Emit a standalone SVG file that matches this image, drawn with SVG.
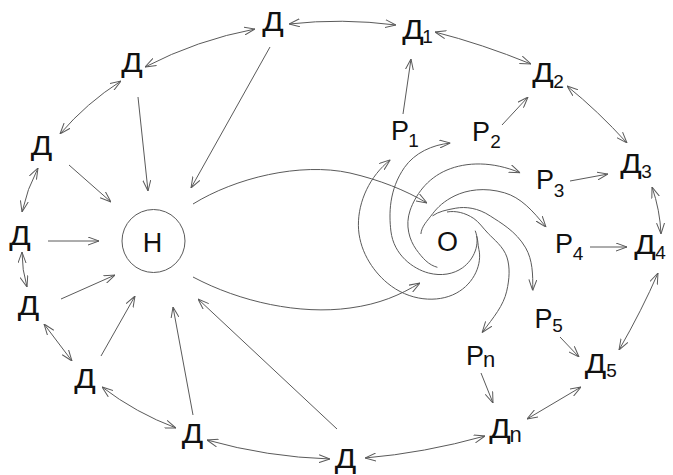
<svg xmlns="http://www.w3.org/2000/svg" width="673" height="475" viewBox="0 0 673 475">
<defs>
<style>
.c{fill:none;stroke:#5a5a5a;stroke-width:1}
.a{marker-end:url(#ah)}
.b{marker-start:url(#ah);marker-end:url(#ah)}
text{font-family:"Liberation Sans",Arial,sans-serif;fill:#111}
.m{font-size:27px;text-anchor:middle}
.s{font-size:19px;text-anchor:middle}
.n{font-size:22px;text-anchor:middle}
</style>
<marker id="ah" viewBox="0 0 11 9" refX="11" refY="4.5" markerWidth="11" markerHeight="9" markerUnits="userSpaceOnUse" orient="auto-start-reverse">
<path d="M0,0.5 L11,4.5 L0,8.5" fill="none" stroke="#5a5a5a" stroke-width="1"/>
</marker>
</defs>
<rect width="673" height="475" fill="#fff"/>
<g id="connectors">
<path class="c b" d="M255,29 Q197,40 145,67"/>
<path class="c b" d="M289,24 Q342,18 396,25"/>
<path class="c b" d="M121,81 Q86.5,103 60,134"/>
<path class="c b" d="M38,168 Q27,189 22,212"/>
<path class="c b" d="M22,252 Q22,270 27,287"/>
<path class="c b" d="M44,324 L72,361"/>
<path class="c b" d="M102,387 Q136,413 176,428"/>
<path class="c b" d="M207,440 Q267,457 330,459"/>
<path class="c b" d="M365,458 Q424,453 485,436"/>
<path class="c b" d="M527,419 L581,387"/>
<path class="c b" d="M619,350 Q642,310 658,273"/>
<path class="c b" d="M661,234 Q660,210 652,187"/>
<path class="c b" d="M567,86 Q598,111 627,143"/>
<path class="c b" d="M435,32 Q482,44 531,64"/>
<path class="c a" d="M270,47 L191,188"/>
<path class="c a" d="M138,97 L148,191"/>
<path class="c a" d="M69,165 L111,202"/>
<path class="c a" d="M48,241 L99,241"/>
<path class="c a" d="M61,299 L115,275"/>
<path class="c a" d="M101,356 L135,296"/>
<path class="c a" d="M193,415 L173,307"/>
<path class="c a" d="M337,429 L198,299"/>
<path class="c a" d="M403,114 L411,59"/>
<path class="c a" d="M502,125 L528,97"/>
<path class="c a" d="M570,181 L608,174"/>
<path class="c a" d="M590,247 L627,247"/>
<path class="c a" d="M560,337 L579,357"/>
<path class="c a" d="M481,373 L493,403"/>
<path class="c a" d="M193,204 C235,178 300,162 350,173 C380,180 405,190 427,203"/>
<path class="c a" d="M193,277 C240,302 300,315 350,308 C380,304 400,295 420,283"/>
<path class="c a" d="M476.6,235.8 C478.1,240.0 477.7,244.2 478.9,249.5 C482.1,263.3 474.8,283.2 456.2,293.2 C437.6,303.2 409.1,301.3 387.2,282.9 C372.0,270.2 358.6,249.3 358.4,225.3 C358.2,201.3 369.8,176.1 390.2,159.9"/>
<path class="c a" d="M475.2,230.7 C480.4,243.7 474.3,259.4 462.5,267.8 C453.7,274.1 441.4,276.4 428.5,273.0 C413.4,269.0 393.7,255.2 390.9,231.1 C388.9,213.9 388.9,189.8 404.5,167.4 C414.5,153.1 432.1,144.7 450.4,143.1"/>
<path class="c a" d="M437.4,267.3 C428.7,265.1 422.5,258.2 416.1,249.3 C409.7,240.4 404.7,225.6 410.2,210.1 C415.2,196.0 426.3,178.7 447,170 C466.4,161.8 492.5,161.2 520.1,172.8"/>
<path class="c a" d="M420.9,234.0 C421.5,226.4 427.1,221.1 432.9,213.4 C437.4,207.5 444.0,201.0 455.0,195.7 C466.9,190.0 484.3,186.9 504.5,192.8 C520.6,197.5 532.4,210.2 546.0,227.1"/>
<path class="c a" d="M432.5,215.9 C438.7,211.4 446.1,210.0 455.8,208.2 C465.5,206.4 478.1,207.9 490.3,216.0 C499.8,222.3 515.9,230.9 525.7,247.9 C532.6,260.0 533.0,274.1 532.7,290.5"/>
<path class="c a" d="M447,212 C455.4,210.5 465.0,212.6 473.8,218.5 C479.1,222.1 482.3,227.3 488.4,233.7 C493.5,239.0 503.6,246.9 506.9,257.1 C510.2,267.3 509.5,278.8 506.7,291.2 C503.4,305.6 493.9,317.1 482.1,332.5"/>
</g>
<g id="H"><circle class="c" cx="153.5" cy="241" r="31.5"/><text class="m" x="152.5" y="252" font-size="28">Н</text></g>
<g id="O"><text class="m" x="447.5" y="251" font-size="28">О</text></g>
<g id="D-top"><text class="m" x="273" y="31" textLength="21.5" lengthAdjust="spacingAndGlyphs">Д</text></g>
<g id="D-a"><text class="m" x="132" y="72" textLength="21.5" lengthAdjust="spacingAndGlyphs">Д</text></g>
<g id="D-b"><text class="m" x="41.5" y="155" textLength="21.5" lengthAdjust="spacingAndGlyphs">Д</text></g>
<g id="D-c"><text class="m" x="20" y="245" textLength="21.5" lengthAdjust="spacingAndGlyphs">Д</text></g>
<g id="D-d"><text class="m" x="28.5" y="315" textLength="21.5" lengthAdjust="spacingAndGlyphs">Д</text></g>
<g id="D-e"><text class="m" x="85" y="388" textLength="21.5" lengthAdjust="spacingAndGlyphs">Д</text></g>
<g id="D-f"><text class="m" x="192.5" y="443" textLength="21.5" lengthAdjust="spacingAndGlyphs">Д</text></g>
<g id="D-bottom"><text class="m" x="345.5" y="468" textLength="21.5" lengthAdjust="spacingAndGlyphs">Д</text></g>
<g id="D1"><text class="m" x="413" y="39" textLength="21.5" lengthAdjust="spacingAndGlyphs">Д</text><text class="s" x="427.5" y="43">1</text></g>
<g id="D2"><text class="m" x="543" y="82" textLength="21.5" lengthAdjust="spacingAndGlyphs">Д</text><text class="s" x="558.5" y="88">2</text></g>
<g id="D3"><text class="m" x="631" y="173" textLength="21.5" lengthAdjust="spacingAndGlyphs">Д</text><text class="s" x="646.5" y="178">3</text></g>
<g id="D4"><text class="m" x="645" y="254" textLength="21.5" lengthAdjust="spacingAndGlyphs">Д</text><text class="s" x="660.5" y="259">4</text></g>
<g id="D5"><text class="m" x="595.5" y="373" textLength="21.5" lengthAdjust="spacingAndGlyphs">Д</text><text class="s" x="611.5" y="377">5</text></g>
<g id="Dn"><text class="m" x="500" y="438" textLength="21.5" lengthAdjust="spacingAndGlyphs">Д</text><text class="n" x="515.5" y="442">n</text></g>
<g id="P1"><text class="m" x="400" y="140" font-size="28">Р</text><text class="s" x="413.5" y="147">1</text></g>
<g id="P2"><text class="m" x="481" y="141" font-size="28">Р</text><text class="s" x="495.5" y="148">2</text></g>
<g id="P3"><text class="m" x="545" y="189" font-size="28">Р</text><text class="s" x="559" y="197">3</text></g>
<g id="P4"><text class="m" x="564" y="253" font-size="28">Р</text><text class="s" x="578" y="260">4</text></g>
<g id="P5"><text class="m" x="543.5" y="328" font-size="28">Р</text><text class="s" x="557.5" y="332">5</text></g>
<g id="Pn"><text class="m" x="475" y="365" font-size="28">Р</text><text class="n" x="489" y="367">n</text></g>
</svg>
